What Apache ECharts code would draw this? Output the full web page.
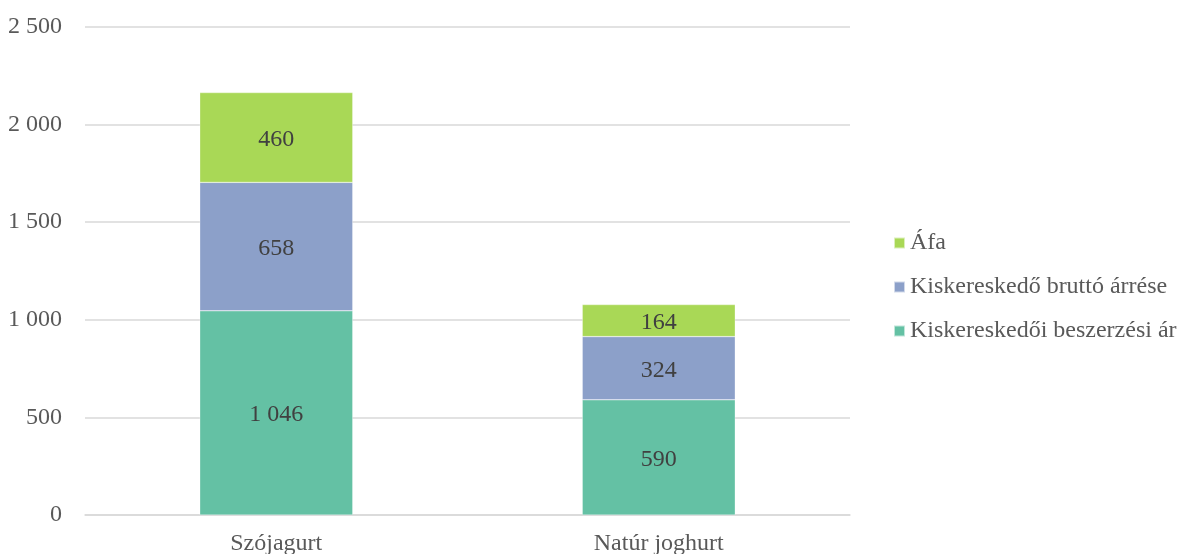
<!DOCTYPE html>
<html>
<head>
<meta charset="utf-8">
<script src="https://cdn.jsdelivr.net/npm/echarts@6/dist/echarts.min.js"></script>
<style>
  html, body { margin: 0; padding: 0; background: #fff; }
  #chart { width: 1178px; height: 554px; }
</style>
</head>
<body>
<div id="chart"></div>
<script>
// Data
const categories = ['Szójagurt', 'Natúr joghurt'];
const beszerzesiAr = [1046, 590];
const bruttoArres = [658, 324];
const afa = [460, 164];
const seriesNames = ['Kiskereskedői beszerzési ár', 'Kiskereskedő bruttó árrése', 'Áfa'];

const fmt = v => String(v).replace(/\B(?=(\d{3})+(?!\d))/g, ' ');
const FONT = '"Liberation Serif", "Times New Roman", serif';
const FS = 24;

const chart = echarts.init(document.getElementById('chart'));

const makeSeries = (name, data, color) => ({
  name: name,
  type: 'bar',
  stack: 'total',
  barWidth: '40%',
  data: data,
  itemStyle: { color: color, borderColor: 'rgba(255,255,255,0.6)', borderWidth: 0.5 },
  label: {
    show: true,
    position: 'inside',
    color: '#404040',
    fontFamily: FONT,
    fontSize: FS,
    offset: [0, 2],
    formatter: p => fmt(p.value)
  }
});

chart.setOption({
  animation: false,
  textStyle: { fontFamily: FONT },
  grid: { left: 85, right: 328, top: 27, bottom: 39, outerBoundsMode: 'none' },
  legend: {
    orient: 'vertical',
    left: 888,
    top: 226,
    itemGap: 20,
    itemWidth: 11,
    itemHeight: 11,
    icon: 'rect',
    data: [seriesNames[2], seriesNames[1], seriesNames[0]],
    textStyle: { fontFamily: FONT, fontSize: FS, color: '#595959' }
  },
  xAxis: {
    type: 'category',
    data: categories,
    axisLine: { lineStyle: { color: '#d9d9d9', width: 1.5 } },
    axisTick: { show: false },
    axisLabel: { fontFamily: FONT, fontSize: FS, color: '#595959', margin: 17 }
  },
  yAxis: {
    type: 'value',
    min: 0,
    max: 2500,
    interval: 500,
    axisLine: { show: false },
    axisTick: { show: false },
    splitLine: { lineStyle: { color: '#d9d9d9', width: 1.5 } },
    axisLabel: { fontFamily: FONT, fontSize: FS, color: '#595959', margin: 23, formatter: v => fmt(v) }
  },
  series: [
    makeSeries(seriesNames[0], beszerzesiAr, '#64c1a4'),
    makeSeries(seriesNames[1], bruttoArres, '#8ca0c9'),
    makeSeries(seriesNames[2], afa, '#a9d856')
  ]
});
</script>
</body>
</html>
